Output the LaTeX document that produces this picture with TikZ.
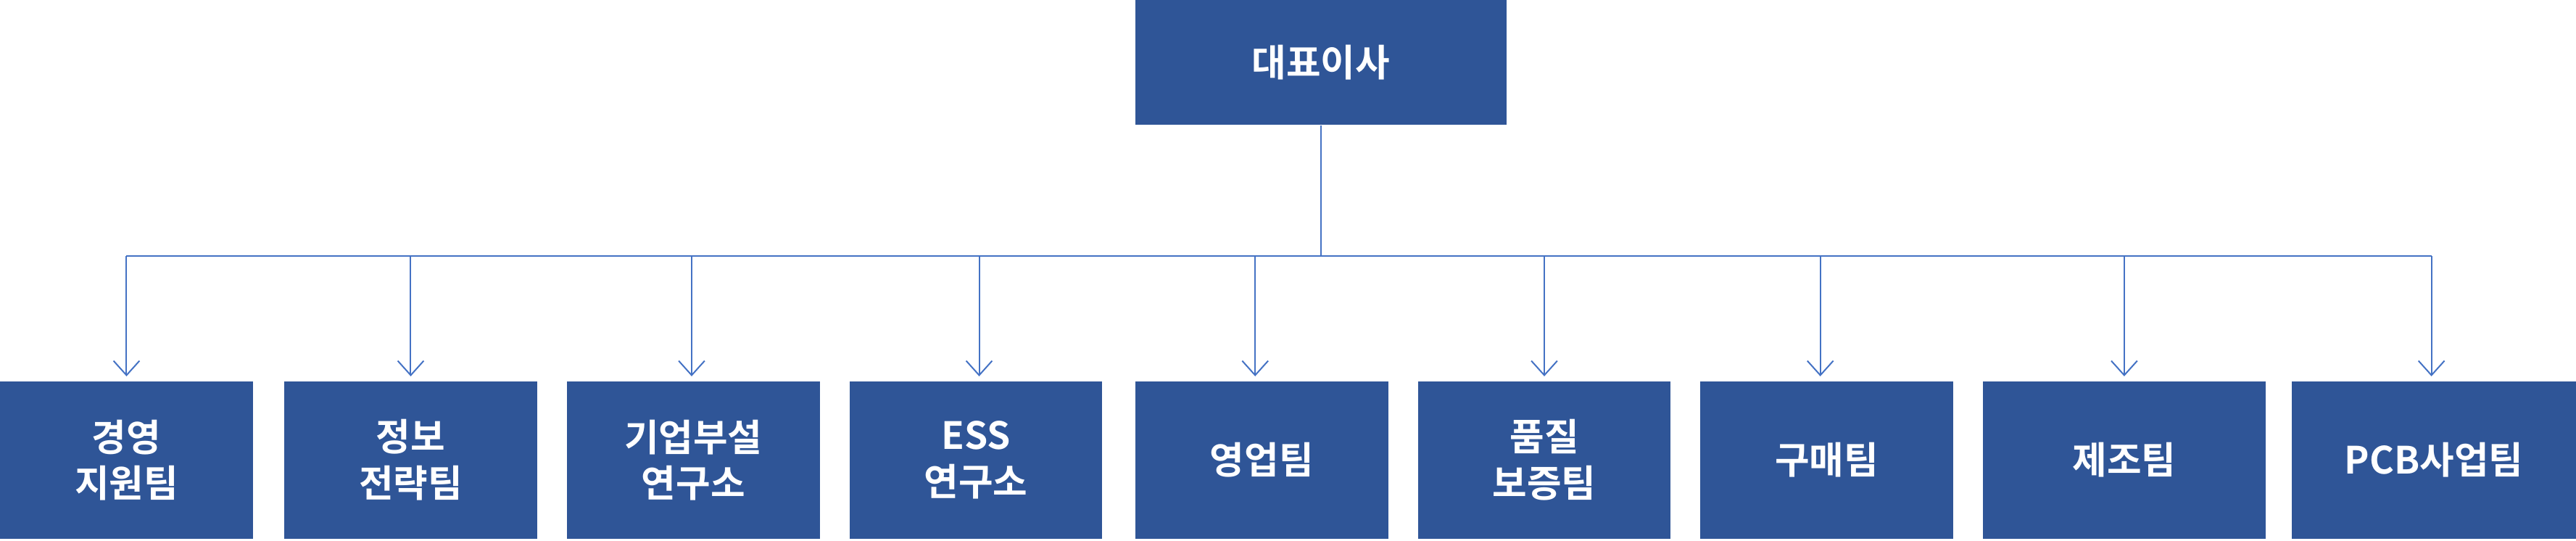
\documentclass[tikz,border=0pt]{standalone}
\usepackage{fontspec}
\newfontfamily\kr{Noto Sans CJK KR Bold}
\usetikzlibrary{arrows.meta}
\definecolor{boxblue}{HTML}{2F5597}
\definecolor{lineblue}{HTML}{4472C4}
\tikzset{
  unit/.style={fill=boxblue, text=white, font=\kr\fontsize{13pt}{16pt}\selectfont,
    align=center, minimum height=1.92cm, inner sep=0pt},
  link/.style={draw=lineblue, line width=0.5pt},
  down/.style={link, -{Straight Barb[length=5pt,width=9pt]}}
}
\begin{document}
\begin{tikzpicture}[x=0.02cm,y=-0.02cm]
  \useasboundingbox (0,0) rectangle (1568,329.2);
  % Top
  \node[unit, minimum width=4.52cm, minimum height=1.52cm] (ceo) at (804,38) {대표이사};
  \coordinate (hub) at (804,156);
  \draw[link] (ceo) -- (hub);
  \draw[link] (77,156) -- (1480,156);

  % Teams
  \foreach \name/\x/\w/\txt in {
      mgmt/77/154/{경영\\지원팀},
      strat/250/154/{정보\\전략팀},
      lab/422/154/{기업부설\\연구소},
      ess/594/154/{ESS\\연구소},
      sales/768/154/{영업팀},
      qa/940/154/{품질\\보증팀},
      buy/1112/154/{구매팀},
      prod/1293/172/{제조팀},
      pcb/1481.5/173/{PCB사업팀}} {
    \node[unit, minimum width=\w*0.02cm] (\name) at (\x,280) {\txt};
  }
  \foreach \name/\x in {mgmt/77, strat/250, lab/421, ess/596, sales/764,
      qa/940, buy/1108, prod/1293, pcb/1480} {
    \coordinate (top-\name) at (\x,156);
    \draw[down] (top-\name) -- (\x,229);
  }
\end{tikzpicture}
\end{document}
